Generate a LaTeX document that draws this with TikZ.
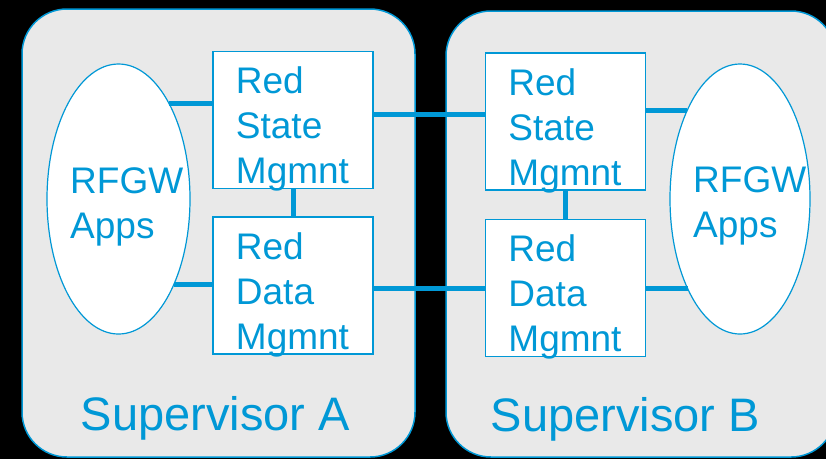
\documentclass[tikz,border=0pt]{standalone}
\usepackage{fontspec}
\setmainfont{Liberation Sans}
\usetikzlibrary{positioning, shapes.geometric}
\definecolor{rfblau}{RGB}{0,152,214}
\definecolor{rfgrau}{RGB}{233,233,233}

\begin{document}
\begin{tikzpicture}[x=1pt, y=-1pt]

%%% Definitionen der Styles
\tikzset{
  supervisor/.style = {draw = rfblau, fill = rfgrau, line width = 1.5pt, rounded corners = 45pt, inner sep = 0pt},
  redbox/.style = {draw = rfblau, fill = white, line width = 1.5pt, minimum width = 160pt, minimum height = 137pt, inner sep = 0pt},
  apps/.style = {ellipse, draw = rfblau, fill = white, line width = 1.2pt, inner sep = 0pt},
  boxtext/.style = {text = rfblau, align = left, inner sep = 0pt, font = \fontsize{37}{45}\selectfont},
  suptext/.style = {text = rfblau, inner sep = 0pt, font = \fontsize{47}{56}\selectfont},
  link/.style = {draw = rfblau, line width = 5pt}
}

%%% Definition der BoundingBox 826 x 459
\useasboundingbox (0,0) rectangle (826,459);
\fill[black] (0,0) rectangle (826,459);

%%% Supervisor-Kaesten
\node[supervisor, minimum width = 393pt, minimum height = 448pt] (supA) at (218.5,233) {};
\node[supervisor, minimum width = 390pt, minimum height = 446pt] (supB) at (641,234) {};

%%% Apps (Ellipsen)
\node[apps, minimum width = 143pt, minimum height = 270pt] (appsA) at (118.5,199) {};
\node[apps, minimum width = 140pt, minimum height = 270pt] (appsB) at (740,199) {};

%%% Red State / Red Data
\node[redbox] (stateA) at (293,120) {};
\node[redbox] (dataA)  at (293,285.5) {};
\node[redbox] (stateB) at (565.5,121.5) {};
\node[redbox] (dataB)  at (565.5,288) {};

%%% Verbindungen
\draw[link] (appsA.62.3) -- (appsA.62.3 -| stateA.west);
\draw[link] (appsA.-57.8) -- (appsA.-57.8 -| dataA.west);
\draw[link] (stateA.south) -- (dataA.north);
\draw[link] ([yshift=6pt]stateA.east) -- ([yshift=6pt]stateA.east -| stateB.west);
\draw[link] (dataA.east |- dataB.west) -- (dataB.west);
\draw[link] (stateB.south) -- (dataB.north);
\draw[link] (appsB.121.6 -| stateB.east) -- (appsB.121.6);
\draw[link] (dataB.east) -- (dataB.east -| appsB.-120.6);

%%% Beschriftungen
\node[boxtext, below right = 16pt and 23.5pt of stateA.north west] (stateAtext) {Red\\State\\Mgmnt};
\node[boxtext, below right = 16pt and 23.5pt of dataA.north west]  (dataAtext)  {Red\\Data\\Mgmnt};
\node[boxtext, below right = 16pt and 23.5pt of stateB.north west] (stateBtext) {Red\\State\\Mgmnt};
\node[boxtext, below right = 16pt and 23.5pt of dataB.north west]  (dataBtext)  {Red\\Data\\Mgmnt};

\node[boxtext, anchor = north west] (appsAtext) at ([xshift=-48.5pt, yshift=-104pt]appsA.north) {RFGW\\Apps};
\node[boxtext, anchor = north west] (appsBtext) at ([xshift=-47pt, yshift=-103pt]appsB.north) {RFGW\\Apps};

\node[suptext, anchor = base west] (supAtext) at ([xshift=59.5pt, yshift=27pt]supA.south west) {Supervisor A};
\node[suptext, anchor = base west] (supBtext) at ([xshift=45.5pt, yshift=26pt]supB.south west) {Supervisor B};
\end{tikzpicture}
\end{document}
